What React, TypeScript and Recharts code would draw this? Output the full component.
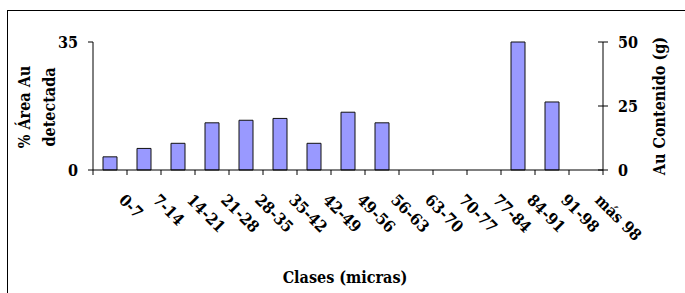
import { ComposedChart, Bar, Line, XAxis, YAxis, Label } from 'recharts';

const CLASES = ['0-7', '7-14', '14-21', '21-28', '28-35', '35-42', '42-49', '49-56', '56-63', '63-70', '70-77', '77-84', '84-91', '91-98', 'más 98'];
const AREA_AU = [3.6, 5.9, 7.3, 12.9, 13.6, 14.1, 7.3, 15.8, 12.9, 0, 0, 0, 35, 18.6, 0];
const LEFT_TICKS = [0, 35];
const RIGHT_TICKS = [0, 25, 50];

const W = 685;
const H = 293;
const MARGIN = { top: 42, right: 22, bottom: 0, left: 33 };
const AXIS_W = 60;
const PLOT_W = W - MARGIN.left - MARGIN.right - 2 * AXIS_W;
const FONT = "'DejaVu Serif Condensed', 'DejaVu Serif', serif";
const TXT = { fill: '#000', fontFamily: FONT, fontSize: 16, fontWeight: 'bold' };

const data = CLASES.map((clase, i) => ({ clase, area: AREA_AU[i] }));

function ClassTick(props: any) {
  const { x, y, payload, index } = props;
  const step = PLOT_W / CLASES.length;
  const axisY = y - 5;
  const lx = x + 8;
  const ly = axisY + 31;
  return (
    <g>
      <line x1={x - step / 2} x2={x - step / 2} y1={axisY} y2={axisY + 5} stroke="#000" />
      {index === CLASES.length - 1 && (
        <line x1={x + step / 2} x2={x + step / 2} y1={axisY} y2={axisY + 5} stroke="#000" />
      )}
      <text x={lx} y={ly} transform={`rotate(45, ${lx}, ${ly})`} textAnchor="start" {...TXT}>
        {payload.value}
      </text>
    </g>
  );
}

function LeftTick(props: any) {
  const { x, y, payload } = props;
  return (
    <text x={x} y={y} dy="0.35em" textAnchor="end" {...TXT}>{payload.value}</text>
  );
}

function RightTick(props: any) {
  const { x, y, payload } = props;
  const axisX = x - 15;
  return (
    <g>
      <line x1={axisX - 5} x2={axisX} y1={y} y2={y} stroke="#000" />
      <text x={x} y={y} dy="0.35em" textAnchor="start" {...TXT}>{payload.value}</text>
    </g>
  );
}

export default function App() {
  return (
    <div style={{ position: 'absolute', left: 0, top: 0, width: W, height: H, overflow: 'hidden', background: '#fff' }}>
      <div style={{ position: 'absolute', left: 7, top: 10, width: 700, height: 320, border: '1px solid #000' }} />
      <div style={{ position: 'absolute', left: 0, top: 0 }}>
        <ComposedChart width={W} height={H} data={data} margin={MARGIN} barCategoryGap={0}>
          <XAxis
            dataKey="clase"
            interval={0}
            height={H - MARGIN.top - 128}
            tickLine={false}
            tickSize={5}
            tickMargin={0}
            axisLine={{ stroke: '#000' }}
            tick={<ClassTick />}
          >
            <Label
              content={({ viewBox }: any) => (
                <text x={viewBox.x + viewBox.width / 2 - 3} y={viewBox.y + 113} textAnchor="middle" {...TXT}>
                  Clases (micras)
                </text>
              )}
            />
          </XAxis>
          <YAxis
            yAxisId="left"
            width={AXIS_W}
            domain={[0, 35]}
            ticks={LEFT_TICKS}
            tickSize={5}
            tickMargin={10}
            axisLine={{ stroke: '#000' }}
            tickLine={{ stroke: '#000' }}
            tick={<LeftTick />}
          >
            <Label
              content={({ viewBox }: any) => {
                const cy = viewBox.y + viewBox.height / 2 + 1;
                const x1 = viewBox.x - 3;
                const x2 = viewBox.x + 22;
                return (
                  <g>
                    <text x={x1} y={cy} transform={`rotate(-90, ${x1}, ${cy})`} textAnchor="middle" {...TXT}>% Área Au</text>
                    <text x={x2} y={cy} transform={`rotate(-90, ${x2}, ${cy})`} textAnchor="middle" {...TXT}>detectada</text>
                  </g>
                );
              }}
            />
          </YAxis>
          <YAxis
            yAxisId="right"
            orientation="right"
            width={AXIS_W}
            type="number"
            domain={[0, 50]}
            allowDataOverflow
            ticks={RIGHT_TICKS}
            tickSize={5}
            tickMargin={10}
            axisLine={{ stroke: '#000' }}
            tickLine={{ stroke: '#000' }}
            tick={<RightTick />}
          >
            <Label
              content={({ viewBox }: any) => {
                const cy = viewBox.y + viewBox.height / 2;
                const x = viewBox.x + 62;
                return (
                  <text x={x} y={cy} transform={`rotate(-90, ${x}, ${cy})`} textAnchor="middle" {...TXT}>
                    Au Contenido (g)
                  </text>
                );
              }}
            />
          </YAxis>
          <Bar yAxisId="left" dataKey="area" barSize={14} fill="#9999FF" stroke="#111" strokeWidth={1} isAnimationActive={false} />
          <Line yAxisId="right" dataKey="contenido" stroke="none" dot={false} activeDot={false} legendType="none" isAnimationActive={false} />
        </ComposedChart>
      </div>
    </div>
  );
}
